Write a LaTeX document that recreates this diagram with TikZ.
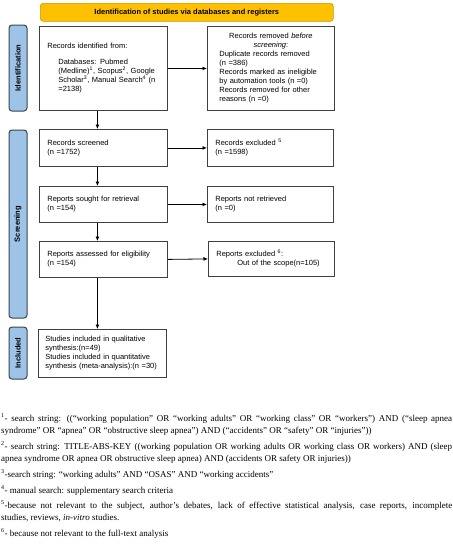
\documentclass[tikz,border=0pt]{standalone}
\usepackage{fontspec}
\setmainfont{Liberation Serif}
\newfontfamily\boxfont{Liberation Sans}
\usetikzlibrary{arrows.meta}
\hyphenpenalty=10000
\exhyphenpenalty=10000
\definecolor{hdrfill}{HTML}{FFC000}
\definecolor{hdrline}{HTML}{C99700}
\definecolor{tabfill}{HTML}{9DC3E6}
\definecolor{tabline}{HTML}{3B4550}
\definecolor{boxline}{HTML}{404040}
\tikzset{
  boxstyle/.style={draw=boxline, line width=0.8pt, rectangle, anchor=north west,
    inner xsep=8pt, inner ysep=0pt, align=left,
    font=\boxfont\fontsize{7.5}{9}\selectfont},
  tabstyle/.style={draw=tabline, fill=tabfill, line width=1pt, rounded corners=3pt,
    rotate=90, inner sep=0pt, minimum height=18pt,
    font=\boxfont\bfseries\fontsize{7.5}{9}\selectfont},
  hdrstyle/.style={draw=hdrline, fill=hdrfill, line width=0.6pt, rounded corners=3pt,
    anchor=north west, minimum width=293pt, minimum height=18pt, inner sep=0pt,
    font=\boxfont\bfseries\fontsize{7.5}{9}\selectfont},
  arr/.style={draw=black, line width=0.8pt, -{Latex[length=4.5pt,width=4pt]}},
  fnstyle/.style={anchor=north west, inner sep=0pt, text width=451pt, align=justify,
    font=\fontsize{9}{12}\selectfont}
}
\begin{document}
\begin{tikzpicture}[x=1pt,y=-1pt]
\path[use as bounding box, fill=white] (0,0) rectangle (453,550);

\node[hdrstyle] (hdr) at (40,3) {Identification of studies via databases and registers};

\node[tabstyle, minimum width=86pt] (tabid) at (18,68) {Identification};
\node[tabstyle, minimum width=188pt] (tabscr) at (18,224) {Screening};
\node[tabstyle, minimum width=52pt] (tabinc) at (18,353) {Included};

\node[boxstyle, minimum width=128pt, minimum height=84pt, text width=112pt] (b1) at (39,26)
 {Records identified from:\\[7pt]
  \hspace*{11pt}Databases: Pubmed\\
  \hspace*{11pt}(Medline)\textsuperscript{1}, Scopus\textsuperscript{2}, Google\\
  \hspace*{11pt}Scholar\textsuperscript{3}, Manual Search\textsuperscript{4} (n\\
  \hspace*{11pt}=2138)\par\vspace*{8pt}};
\node[boxstyle, minimum width=127pt, minimum height=84pt, text width=111pt] (r1) at (207,26)
 {\makebox[111pt][c]{Records removed \textit{before}}\\
  \makebox[111pt][c]{\textit{screening}:}\\
  \hspace*{4pt}Duplicate records removed\\
  \hspace*{4pt}(n =386)\\
  \hspace*{4pt}Records marked as ineligible\\
  \hspace*{4pt}by automation tools (n =0)\\
  \hspace*{4pt}Records removed for other\\
  \hspace*{4pt}reasons (n =0)};

\node[boxstyle, minimum width=128pt, minimum height=37pt, text width=112pt] (b2) at (39,129)
 {Records screened\\(n =1752)};
\node[boxstyle, minimum width=126pt, minimum height=37pt, text width=110pt] (r2) at (207,129)
 {Records excluded \textsuperscript{5}\\(n =1598)};

\node[boxstyle, minimum width=128pt, minimum height=36pt, text width=112pt] (b3) at (39,186)
 {Reports sought for retrieval\\(n =154)};
\node[boxstyle, minimum width=126pt, minimum height=36pt, text width=110pt] (r3) at (207,186)
 {Reports not retrieved\\(n =0)};

\node[boxstyle, minimum width=128pt, minimum height=36pt, text width=112pt] (b4) at (39,241)
 {Reports assessed for eligibility\\(n =154)};
\node[boxstyle, minimum width=126pt, minimum height=35pt, text width=110pt] (r4) at (208,241)
 {Reports excluded \textsuperscript{6}:\\\hspace*{21pt}Out of the scope(n=105)};

\node[boxstyle, minimum width=128pt, minimum height=48pt, text width=114pt, inner xsep=7pt] (b5) at (38,329)
 {Studies included in qualitative\\synthesis:(n=49)\\Studies included in quantitative\\synthesis (meta-analysis):(n =30)};

\draw[arr] (b1.east) -- (r1.west);
\draw[arr] (b2.east) -- (r2.west);
\draw[arr] (b3.east) -- (r3.west);
\draw[arr] (b4.east) -- (r4.west);
\draw[arr] ([xshift=-6pt]b1.south) -- ([xshift=-6pt]b2.north);
\draw[arr] ([xshift=-6pt]b2.south) -- ([xshift=-6pt]b3.north);
\draw[arr] ([xshift=-6pt]b3.south) -- ([xshift=-6pt]b4.north);
\draw[arr] ([xshift=-6pt]b4.south) -- ([xshift=-5pt]b5.north);

\node[fnstyle] (fn1) at (1,413) {\strut\textsuperscript{1}- search string: ((“working population” OR “working adults” OR “working class” OR “workers”) AND (“sleep apnea\linebreak syndrome” OR “apnea” OR “obstructive sleep apnea”) AND (“accidents” OR “safety” OR “injuries”))};
\node[fnstyle] (fn2) at (1,441) {\strut\textsuperscript{2}- search string: TITLE-ABS-KEY ((working population OR working adults OR working class OR workers) AND (sleep\linebreak apnea syndrome OR apnea OR obstructive sleep apnea) AND (accidents OR safety OR injuries))};
\node[fnstyle] (fn3) at (1,469) {\strut\textsuperscript{3}-search string: “working adults” AND “OSAS” AND “working accidents”};
\node[fnstyle] (fn4) at (1,485) {\strut\textsuperscript{4}- manual search: supplementary search criteria};
\node[fnstyle] (fn5) at (1,500) {\strut\textsuperscript{5}-because not relevant to the subject, author’s debates, lack of effective statistical analysis, case reports, incomplete\linebreak studies, reviews, \textit{in-vitro} studies.};
\node[fnstyle] (fn6) at (1,528) {\strut\textsuperscript{6}- because not relevant to the full-text analysis};
\end{tikzpicture}
\end{document}
